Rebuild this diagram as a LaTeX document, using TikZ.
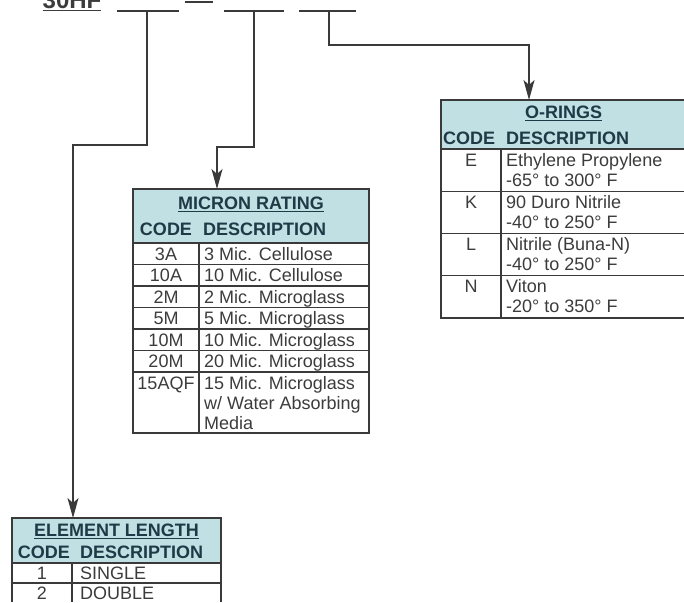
\documentclass[tikz,border=0pt]{standalone}
\usepackage{fontspec}
\setmainfont{Liberation Sans}
\usetikzlibrary{arrows.meta,calc}
\definecolor{headFill}{HTML}{C0E0E3}
\definecolor{headText}{HTML}{1F3A46}
\definecolor{bodyText}{HTML}{3C3C3C}
\definecolor{ruleStroke}{HTML}{3A3A3A}

\begin{document}
\begin{tikzpicture}[
  x=1pt, y=-1pt,
  font=\fontsize{18}{20}\selectfont,
  frame/.style ={draw=ruleStroke, line width=1.1pt},
  head/.style  ={fill=headFill, draw=ruleStroke, line width=1.1pt},
  ttl/.style   ={font=\fontsize{18}{20}\selectfont\bfseries, text=headText, inner sep=0pt},
  code/.style  ={text=bodyText, inner sep=0pt, anchor=base},
  desc/.style  ={text=bodyText, inner sep=0pt, anchor=base west},
  blank/.style ={draw=ruleStroke, line width=1.2pt},
  conn/.style  ={draw=ruleStroke, line width=1.2pt, -{Stealth[length=20pt,width=11pt,inset=5pt]}},
]
\fill[white] (0,0) rectangle (684,602);
\useasboundingbox (0,0) rectangle (684,602);

% ============ Part number ============
\node[font=\fontsize{24}{26}\selectfont\bfseries, text=bodyText, inner sep=0pt, anchor=base] (model) at (72,9) {\underline{30HF}};
\draw[blank] (117,11) -- (179,11);
\draw[blank, line width=1.5pt] (185,2) -- (213,2);
\draw[blank] (224,11) -- (284,11);
\draw[blank] (299,11) -- (356,11);

\coordinate (b1) at (147,11);
\coordinate (b2) at (254,11);
\coordinate (b3) at (329,11);

% ============ Micron rating ============
\draw[head] (133,189) rectangle (369,243);
\draw[frame] (133,189) rectangle (369,433);
\draw[frame] (199,243) -- (199,433);
\node[ttl, anchor=base] (mtitle) at (251,209.5) {\underline{MICRON RATING}};
\node[ttl, anchor=base] (mcode) at (166,235.5) {CODE};
\node[ttl, anchor=base west] (mdesc) at (203,235.5) {DESCRIPTION};

\foreach \c/\d [count=\i from 0] in {3A/3 Mic. Cellulose, 10A/10 Mic. Cellulose, 2M/2 Mic. Microglass, 5M/5 Mic. Microglass, 10M/10 Mic. Microglass, 20M/20 Mic. Microglass} {
  \node[code] (mc\i) at (166, 260+21.5*\i) {\c};
  \node[desc] (md\i) at (204, 260+21.5*\i) {\d};
  \draw[frame] (133, 264.5+21.5*\i) -- (369, 264.5+21.5*\i);
}
\node[code] (mc6) at (166,389) {15AQF};
\node[desc] (md6) at (204,389) {15 Mic. Microglass};
\node[desc] (md7) at (204,409) {w/ Water Absorbing};
\node[desc] (md8) at (204,429) {Media};

\coordinate (micIn) at (217,189);

% ============ O-rings ============
\fill[headFill] (441,100) rectangle (684,149);
\draw[frame] (684,149) -- (441,149);
\draw[frame] (684,100) -- (441,100) -- (441,318) -- (684,318);
\draw[frame] (501,149) -- (501,318);
\node[ttl, anchor=base] (otitle) at (563.5,118.5) {\underline{O-RINGS}};
\node[ttl, anchor=base] (ocode) at (469,144.5) {CODE};
\node[ttl, anchor=base west] (odesc) at (506,144.5) {DESCRIPTION};

\foreach \c/\d/\t [count=\i from 0] in {E/Ethylene Propylene/-65° to 300° F, K/90 Duro Nitrile/-40° to 250° F, L/Nitrile (Buna-N)/-40° to 250° F, N/Viton/-20° to 350° F} {
  \node[code] (oc\i) at (471, 166+42.25*\i) {\c};
  \node[desc] (od\i) at (506, 166+42.25*\i) {\d};
  \node[desc] (ot\i) at (506, 186+42.25*\i) {\t};
}
\foreach \i in {0,1,2} {
  \draw[frame] (441, 191.25+42.25*\i) -- (684, 191.25+42.25*\i);
}

\coordinate (ringIn) at (529,100);

% ============ Element length ============
\fill[headFill] (12,518) rectangle (221,563);
\draw[frame] (12,563) -- (221,563);
\draw[frame] (12,602) -- (12,518) -- (221,518) -- (221,602);
\draw[frame] (72,563) -- (72,602);
\draw[frame] (12,583) -- (221,583);
\node[ttl, anchor=base] (etitle) at (116.5,536.5) {\underline{ELEMENT LENGTH}};
\node[ttl, anchor=base] (ecode) at (44,558.5) {CODE};
\node[ttl, anchor=base west] (edesc) at (80,558.5) {DESCRIPTION};

\foreach \c/\d [count=\i from 0] in {1/SINGLE, 2/DOUBLE} {
  \node[code] (ec\i) at (42, 579.5+20*\i) {\c};
  \node[desc] (ed\i) at (80, 579.5+20*\i) {\d};
}

\coordinate (lenIn) at (73,518);

% ============ Connectors ============
\coordinate (k1) at (147,145);
\coordinate (k2) at (254,147);
\coordinate (k3) at (329,45);
\draw[conn] (b1) -- (k1) -| (lenIn);
\draw[conn] (b2) -- (k2) -| (micIn);
\draw[conn] (b3) -- (k3) -| (ringIn);

\end{tikzpicture}
\end{document}
